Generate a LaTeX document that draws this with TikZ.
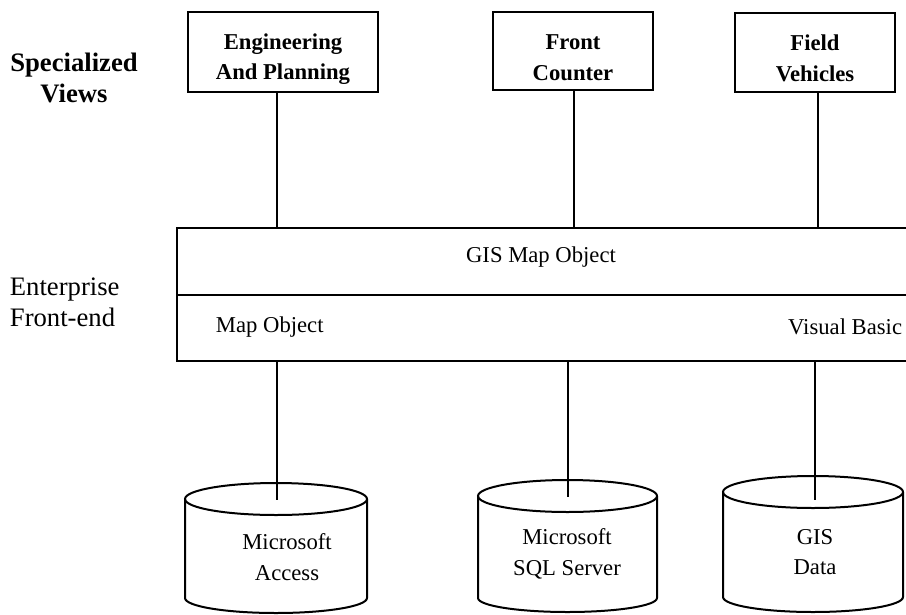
\documentclass[tikz,border=0pt]{standalone}
\usepackage{fontspec}
\setmainfont{Liberation Serif}
\begin{document}
\begin{tikzpicture}[x=0.75pt,y=0.75pt,
  line width=1.4pt,
  txt/.style={font=\fontsize{17}{23}\selectfont, align=center, inner sep=0pt},
  btxt/.style={txt, font=\fontsize{17}{23}\selectfont\bfseries},
  side/.style={txt, font=\fontsize{20}{23.5}\selectfont},
  vbox/.style={draw, line width=1.5pt, inner sep=0pt},
  conn/.style={line width=1.4pt}]
\useasboundingbox (0,0) rectangle (906,-614);
% left labels
\node[side, font=\fontsize{20}{23}\selectfont\bfseries] (spec) at (74,-78) {Specialized\\Views};
\node[side, align=left, anchor=west] (ent) at (9,-302) {Enterprise\\Front-end};
% top boxes
\node[vbox, minimum width=142.5pt, minimum height=60pt] (eng) at (283,-52) {};
\node[btxt] (engt) at (283,-59) {Engineering\\And Planning};
\node[vbox, minimum width=120pt, minimum height=58.5pt] (front) at (573,-51) {};
\node[btxt] (frontt) at (573,-58) {Front\\Counter};
\node[vbox, minimum width=120pt, minimum height=59pt] (field) at (815,-52.5) {};
\node[btxt] (fieldt) at (815,-58) {Field\\Vehicles};
% enterprise box
\node[vbox, minimum width=548.25pt, minimum height=50.25pt] (gis) at (542.5,-261.5) {};
\node[vbox, minimum width=548.25pt, minimum height=49.5pt] (fe) at (542.5,-328) {};
\node[txt] (gist) at (541,-257) {GIS Map Object};
\node[txt, anchor=west] (mo) at (215,-327) {Map Object};
\node[txt, anchor=east] (vb) at (903,-327) {Visual Basic};
% cylinders
\draw[line width=1.5pt] (185,-499) -- (185,-598) arc[start angle=180,end angle=360,x radius=91,y radius=15] -- (367,-499);
\draw[line width=1.5pt] (276,-499) ellipse[x radius=91,y radius=16];
\coordinate (acc) at (277,-500);
\draw[line width=1.5pt] (478,-496) -- (478,-598) arc[start angle=180,end angle=360,x radius=89.5,y radius=14] -- (657,-496);
\draw[line width=1.5pt] (567.5,-496) ellipse[x radius=89.5,y radius=16];
\coordinate (sql) at (568,-497);
\draw[line width=1.5pt] (723,-492) -- (723,-597) arc[start angle=180,end angle=360,x radius=90,y radius=15] -- (903,-492);
\draw[line width=1.5pt] (813,-492) ellipse[x radius=90,y radius=16];
\coordinate (gd) at (815,-500);
\node[txt] (acct) at (287,-557) {Microsoft\\Access};
\node[txt] (sqlt) at (567,-554) {Microsoft\\SQL Server};
\node[txt] (gdt) at (815,-552) {GIS\\Data};
% connectors
\draw[conn] ([xshift=-4.5pt]eng.south) -- ([xshift=-4.5pt]eng.south |- gis.north);
\draw[conn] ([xshift=0.75pt]front.south) -- ([xshift=0.75pt]front.south |- gis.north);
\draw[conn] ([xshift=2.25pt]field.south) -- ([xshift=2.25pt]field.south |- gis.north);
\draw[conn] (fe.south -| acc) -- (acc);
\draw[conn] (fe.south -| sql) -- (sql);
\draw[conn] (fe.south -| gd) -- (gd);
\end{tikzpicture}
\end{document}
